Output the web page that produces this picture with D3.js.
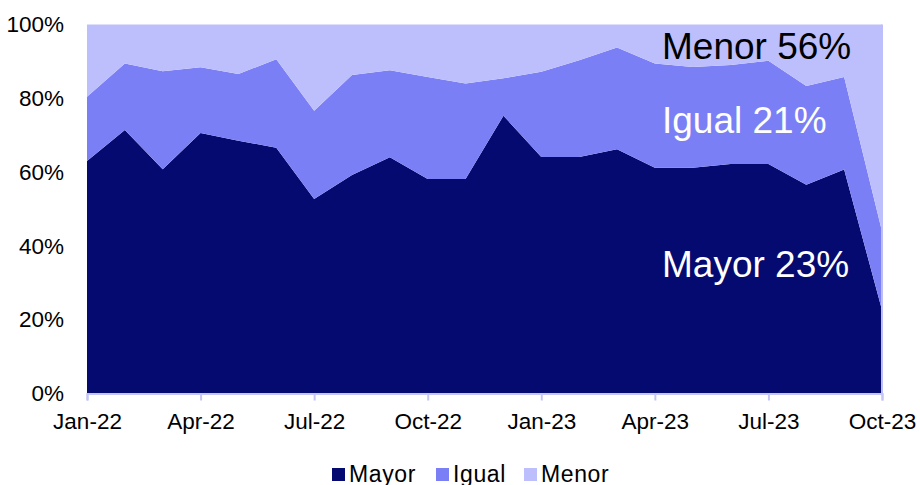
<!DOCTYPE html>
<html lang="es">
<head>
<meta charset="utf-8">
<title>Mayor / Igual / Menor</title>
<script src="https://d3js.org/d3.v7.min.js"></script>
<style>
  body { margin: 0; background: #fff; }
  text { font-family: "Liberation Sans", Arial, sans-serif; }
</style>
</head>
<body>
<script>
// data (share of answers, %)
var months = ["Jan-22","Feb-22","Mar-22","Apr-22","May-22","Jun-22","Jul-22","Aug-22","Sep-22","Oct-22","Nov-22","Dec-22",
              "Jan-23","Feb-23","Mar-23","Apr-23","May-23","Jun-23","Jul-23","Aug-23","Sep-23","Oct-23"];
var mayor = [63.0,71.4,60.8,70.6,68.5,66.6,52.7,59.2,64.0,58.1,58.1,75.3,64.1,64.1,66.2,61.2,61.2,62.2,62.2,56.6,60.7,22.6];
var igual = [17.4,18.0,26.5,17.8,18.1,24.0,23.9,27.1,23.6,27.7,25.9,10.1,23.1,26.2,27.6,28.2,27.3,26.8,28.0,26.7,25.1,21.4];
var menor = [19.6,10.6,12.7,11.6,13.4,9.4,23.4,13.7,12.4,14.2,16.0,14.6,12.8,9.7,6.2,10.6,11.5,11.0,9.8,16.7,14.2,56.0];
var series = ["Mayor","Igual","Menor"];
var yTicks = [0,20,40,60,80,100];
var xTickIdx = [0,3,6,9,12,15,18,21];

var colors = {Mayor: "#050a70", Igual: "#7b7ff5", Menor: "#bdbffc"};

var w = 920, h = 485;
var plotL = 87, plotR = 882, plotT = 24.5, plotB = 393.5;

var svg = d3.select("body").append("svg").attr("width", w).attr("height", h);

var rows = months.map(function(m, i) {
  return {i: i, Mayor: mayor[i], Igual: igual[i], Menor: menor[i]};
});
var stacked = d3.stack().keys(series).offset(d3.stackOffsetExpand)(rows);

var x = d3.scaleLinear().domain([0, months.length - 1]).range([plotL, plotR]);
var y = d3.scaleLinear().domain([0, 1]).range([plotB, plotT]);

var area = d3.area()
  .x(function(d) { return x(d.data.i); })
  .y0(function(d) { return y(d[0]); })
  .y1(function(d) { return y(d[1]); });

svg.selectAll("path.layer").data(stacked).enter().append("path")
  .attr("class", "layer")
  .attr("fill", function(d) { return colors[d.key]; })
  .attr("d", area);

// right border of plot area
svg.append("line").attr("x1", plotR).attr("x2", plotR).attr("y1", plotT).attr("y2", plotB)
  .attr("stroke", "#bdbffc").attr("stroke-width", 2);

// x axis
var xAxis = d3.axisBottom(x).tickValues(xTickIdx)
  .tickFormat(function(d) { return months[d]; })
  .tickSize(7).tickPadding(13);
var gx = svg.append("g").attr("transform", "translate(0," + plotB + ")").call(xAxis);
gx.select(".domain").attr("stroke", "#c3c6f5").attr("stroke-width", 2);
gx.selectAll(".tick line").attr("stroke", "#c3c6f5").attr("stroke-width", 2);
gx.selectAll(".tick text").attr("font-size", 22.5).attr("fill", "#000")
  .attr("font-family", "Liberation Sans, Arial, sans-serif");

// y axis
var yAxis = d3.axisLeft(y).tickValues(yTicks.map(function(v) { return v / 100; }))
  .tickFormat(function(d) { return Math.round(d * 100) + "%"; })
  .tickSize(0).tickPadding(23);
var gy = svg.append("g").attr("transform", "translate(" + plotL + ",0)").call(yAxis);
gy.select(".domain").remove();
gy.selectAll(".tick text").attr("font-size", 22.5).attr("fill", "#000")
  .attr("font-family", "Liberation Sans, Arial, sans-serif");

// labels for last month
var last = months.length - 1;
var notes = [
  {text: "Menor " + Math.round(menor[last]) + "%", y: 59, fill: "#000"},
  {text: "Igual " + Math.round(igual[last]) + "%", y: 133, fill: "#fff"},
  {text: "Mayor " + Math.round(mayor[last]) + "%", y: 277, fill: "#fff"}
];
svg.selectAll("text.note").data(notes).enter().append("text")
  .attr("class", "note")
  .attr("x", 662).attr("y", function(d) { return d.y; })
  .attr("font-size", 37).attr("fill", function(d) { return d.fill; })
  .text(function(d) { return d.text; });

// legend
var legX = [332, 436, 524];
var leg = svg.selectAll("g.leg").data(series).enter().append("g")
  .attr("class", "leg")
  .attr("transform", function(d, i) { return "translate(" + legX[i] + ",468)"; });
leg.append("rect").attr("width", 13).attr("height", 13)
  .attr("fill", function(d) { return colors[d]; });
leg.append("text").attr("x", 17).attr("y", 13.5)
  .attr("font-size", 23).attr("letter-spacing", 0.6).attr("fill", "#000")
  .text(function(d) { return d; });
</script>
</body>
</html>
